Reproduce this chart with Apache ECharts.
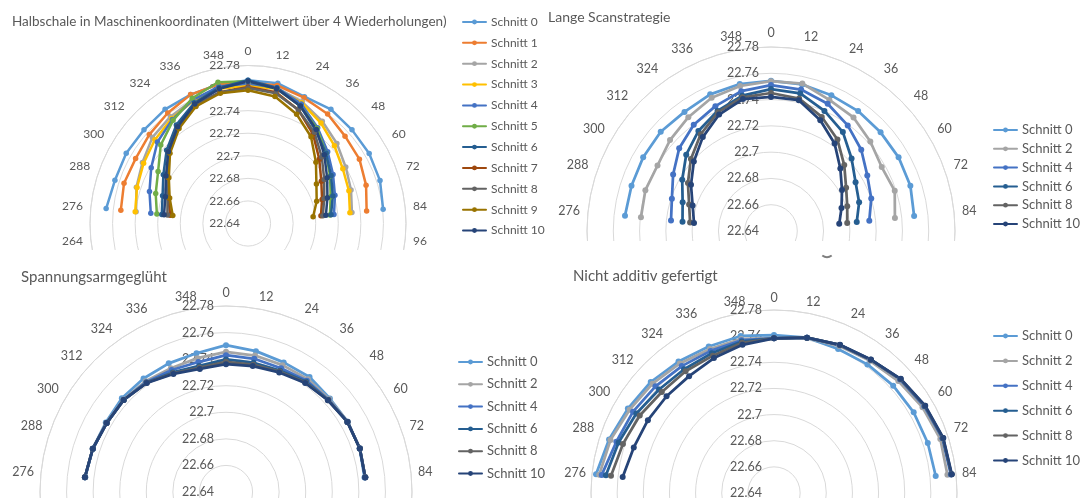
<!DOCTYPE html>
<html><head><meta charset="utf-8">
<script src="https://cdn.jsdelivr.net/npm/echarts@6/dist/echarts.min.js"></script>
<style>
html,body{margin:0;padding:0;background:#fff;width:1084px;height:498px;overflow:hidden;}
.panel{position:absolute;overflow:hidden;}
.chart{position:absolute;left:0;top:0;}
</style></head><body>
<div class="panel" style="left:0;top:0;width:545px;height:250px"><div class="chart" id="c1" style="width:545px;height:420px"></div></div>
<div class="panel" style="left:545px;top:0;width:539px;height:241px"><div class="chart" id="c2" style="width:539px;height:450px"></div></div>
<div class="panel" style="left:0;top:252px;width:560px;height:246px"><div class="chart" id="c3" style="width:560px;height:460px"></div></div>
<div class="panel" style="left:560px;top:252px;width:524px;height:246px"><div class="chart" id="c4" style="width:524px;height:460px"></div></div>
<script>
// ---- shared axes ----
const angles = [276, 288, 300, 312, 324, 336, 348, 0, 12, 24, 36, 48, 60, 72, 84];
const angleTickLabels = [0, 12, 24, 36, 48, 60, 72, 84, 96, 108, 120, 132, 144, 156, 168, 180, 192, 204, 216, 228, 240, 252, 264, 276, 288, 300, 312, 324, 336, 348];
const radiusTicks = [22.64, 22.66, 22.68, 22.70, 22.72, 22.74, 22.76, 22.78];

// ---- Chart 1: Halbschale in Maschinenkoordinaten ----
const hsNames = ['Schnitt 0','Schnitt 1','Schnitt 2','Schnitt 3','Schnitt 4','Schnitt 5','Schnitt 6','Schnitt 7','Schnitt 8','Schnitt 9','Schnitt 10'];
const hs0  = [22.7664, 22.7640, 22.7646, 22.7640, 22.7650, 22.7650, 22.7660, 22.7670, 22.7670, 22.7630, 22.7650, 22.7640, 22.7640, 22.7630, 22.7604];
const hs1  = [22.7533, 22.7555, 22.7550, 22.7577, 22.7610, 22.7650, 22.7660, 22.7650, 22.7650, 22.7620, 22.7600, 22.7557, 22.7540, 22.7500, 22.7457];
const hs2  = [22.7397, 22.7440, 22.7480, 22.7540, 22.7570, 22.7600, 22.7630, 22.7640, 22.7630, 22.7580, 22.7520, 22.7460, 22.7400, 22.7360, 22.7326];
const hs3  = [22.7405, 22.7434, 22.7468, 22.7510, 22.7550, 22.7590, 22.7620, 22.7620, 22.7620, 22.7570, 22.7500, 22.7430, 22.7370, 22.7340, 22.7308];
const hs4  = [22.7266, 22.7318, 22.7390, 22.7480, 22.7540, 22.7600, 22.7640, 22.7640, 22.7630, 22.7560, 22.7450, 22.7350, 22.7270, 22.7210, 22.7166];
const hs5  = [22.7212, 22.7260, 22.7320, 22.7440, 22.7530, 22.7615, 22.7680, 22.7660, 22.7620, 22.7540, 22.7440, 22.7330, 22.7240, 22.7170, 22.7130];
const hs6  = [22.7168, 22.7196, 22.7266, 22.7370, 22.7480, 22.7570, 22.7630, 22.7670, 22.7630, 22.7540, 22.7420, 22.7330, 22.7250, 22.7190, 22.7140];
const hs7  = [22.7094, 22.7140, 22.7220, 22.7340, 22.7450, 22.7540, 22.7590, 22.7610, 22.7590, 22.7500, 22.7380, 22.7250, 22.7150, 22.7090, 22.7050];
const hs8  = [22.7118, 22.7150, 22.7230, 22.7350, 22.7460, 22.7550, 22.7590, 22.7600, 22.7580, 22.7500, 22.7400, 22.7280, 22.7180, 22.7110, 22.7067];
const hs9  = [22.7070, 22.7130, 22.7210, 22.7330, 22.7440, 22.7535, 22.7580, 22.7580, 22.7550, 22.7460, 22.7350, 22.7210, 22.7100, 22.7040, 22.6980];
const hs10 = [22.7148, 22.7170, 22.7240, 22.7350, 22.7460, 22.7560, 22.7620, 22.7660, 22.7620, 22.7540, 22.7430, 22.7310, 22.7210, 22.7140, 22.7094];

// ---- Chart 2: Lange Scanstrategie ----
const sixNames = ['Schnitt 0','Schnitt 2','Schnitt 4','Schnitt 6','Schnitt 8','Schnitt 10'];
const ls0  = [22.7517, 22.7516, 22.7523, 22.7529, 22.7520, 22.7538, 22.7543, 22.7543, 22.7540, 22.7530, 22.7528, 22.7522, 22.7521, 22.7515, 22.7495];
const ls2  = [22.7395, 22.7405, 22.7397, 22.7434, 22.7470, 22.7510, 22.7528, 22.7540, 22.7547, 22.7492, 22.7468, 22.7417, 22.7373, 22.7390, 22.7348];
const ls4  = [22.7165, 22.7193, 22.7260, 22.7340, 22.7400, 22.7440, 22.7488, 22.7510, 22.7500, 22.7460, 22.7393, 22.7324, 22.7246, 22.7202, 22.7152];
const ls6  = [22.7077, 22.7107, 22.7180, 22.7268, 22.7340, 22.7400, 22.7453, 22.7480, 22.7470, 22.7400, 22.7330, 22.7225, 22.7143, 22.7105, 22.7056];
const ls8  = [22.7019, 22.7055, 22.7130, 22.7220, 22.7310, 22.7390, 22.7440, 22.7450, 22.7430, 22.7350, 22.7260, 22.7150, 22.7060, 22.7010, 22.6983];
const ls10 = [22.6989, 22.7027, 22.7103, 22.7190, 22.7283, 22.7370, 22.7426, 22.7420, 22.7418, 22.7322, 22.7223, 22.7110, 22.7024, 22.6964, 22.6922];

// ---- Chart 3: Spannungsarmgeglüht ----
const sp0  = [22.7465, 22.7455, 22.7445, 22.7455, 22.7456, 22.7460, 22.7468, 22.7505, 22.7484, 22.7468, 22.7470, 22.7452, 22.7458, 22.7458, 22.7448];
const sp2  = [22.7466, 22.7454, 22.7440, 22.7440, 22.7430, 22.7420, 22.7430, 22.7455, 22.7450, 22.7445, 22.7450, 22.7445, 22.7458, 22.7460, 22.7455];
const sp4  = [22.7467, 22.7454, 22.7438, 22.7437, 22.7422, 22.7405, 22.7400, 22.7430, 22.7425, 22.7420, 22.7435, 22.7438, 22.7456, 22.7459, 22.7454];
const sp6  = [22.7468, 22.7454, 22.7437, 22.7436, 22.7418, 22.7385, 22.7370, 22.7398, 22.7395, 22.7400, 22.7425, 22.7435, 22.7455, 22.7459, 22.7454];
const sp8  = [22.7468, 22.7455, 22.7437, 22.7436, 22.7416, 22.7378, 22.7358, 22.7380, 22.7380, 22.7392, 22.7418, 22.7433, 22.7455, 22.7459, 22.7454];
const sp10 = [22.7468, 22.7454, 22.7437, 22.7436, 22.7414, 22.7373, 22.7347, 22.7362, 22.7369, 22.7385, 22.7414, 22.7432, 22.7455, 22.7459, 22.7453];

// ---- Chart 4: Nicht additiv gefertigt ----
const na0  = [22.7769, 22.7727, 22.7691, 22.7669, 22.7643, 22.7627, 22.7628, 22.7608, 22.7615, 22.7606, 22.7616, 22.7627, 22.7634, 22.7637, 22.7644];
const na2  = [22.7744, 22.7715, 22.7675, 22.7650, 22.7625, 22.7605, 22.7605, 22.7585, 22.7612, 22.7630, 22.7650, 22.7680, 22.7712, 22.7738, 22.7734];
const na4  = [22.7725, 22.7668, 22.7645, 22.7620, 22.7600, 22.7590, 22.7595, 22.7583, 22.7614, 22.7638, 22.7658, 22.7698, 22.7728, 22.7755, 22.7760];
const na6  = [22.7693, 22.7650, 22.7616, 22.7583, 22.7570, 22.7570, 22.7585, 22.7583, 22.7615, 22.7640, 22.7660, 22.7702, 22.7732, 22.7758, 22.7765];
const na8  = [22.7654, 22.7615, 22.7586, 22.7555, 22.7551, 22.7550, 22.7575, 22.7583, 22.7615, 22.7640, 22.7660, 22.7703, 22.7734, 22.7760, 22.7766];
const na10 = [22.7564, 22.7528, 22.7514, 22.7506, 22.7505, 22.7530, 22.7559, 22.7583, 22.7615, 22.7641, 22.7662, 22.7705, 22.7736, 22.7762, 22.7768];

const colors11 = ['#5B9BD5','#ED7D31','#A5A5A5','#FFC000','#4472C4','#70AD47','#255E91','#9E480E','#636363','#997300','#264478'];
const colors6  = ['#5B9BD5','#A5A5A5','#4472C4','#255E91','#636363','#264478'];

const FONT = 'Lato, "Liberation Sans", sans-serif';
const TXT = '#595959';
const GRID = '#D9D9D9';

function build(el, cfg) {
  const chart = echarts.init(document.getElementById(el), null, {renderer: 'canvas'});
  const series = cfg.data.map((vals, i) => ({
    type: 'line', coordinateSystem: 'polar', name: cfg.names[i],
    data: angles.map((a, k) => [vals[k], a]),
    symbol: 'circle', symbolSize: cfg.sym,
    lineStyle: {width: cfg.lw, color: cfg.colors[i], cap: 'round', join: 'round'},
    itemStyle: {color: cfg.colors[i]},
    emphasis: {disabled: true}, animation: false, clip: false
  }));
  chart.setOption({
    animation: false,
    textStyle: {fontFamily: FONT},
    title: {text: cfg.title, left: cfg.titlePos[0], top: cfg.titlePos[1], padding: 0,
      textStyle: {fontSize: cfg.titleSize, fontWeight: 'normal', color: TXT, fontFamily: FONT}},
    legend: {orient: 'vertical', left: cfg.legPos[0], top: cfg.legPos[1], padding: 0,
      itemWidth: 23, itemHeight: 6, itemGap: cfg.legGap, selectedMode: false,
      textStyle: {fontSize: cfg.legSize, color: TXT, fontFamily: FONT},
      data: cfg.names},
    polar: {center: cfg.center, radius: cfg.R},
    angleAxis: {type: 'value', min: 0, max: 360, interval: 12, startAngle: 90, clockwise: true,
      axisLine: {show: true, lineStyle: {color: GRID, width: 1}},
      axisTick: {show: false}, splitLine: {show: false},
      axisLabel: {color: TXT, fontSize: cfg.angSize, margin: cfg.angMargin, fontFamily: FONT,
        formatter: v => angleTickLabels.indexOf(v) >= 0 ? String(v) : ''}},
    radiusAxis: {type: 'value', min: radiusTicks[0], max: radiusTicks[radiusTicks.length - 1], interval: 0.02,
      axisLine: {show: false}, axisTick: {show: false},
      splitLine: {show: true, lineStyle: {color: GRID, width: 1}},
      axisLabel: {color: TXT, fontSize: cfg.radSize, margin: cfg.radMargin, fontFamily: FONT,
        formatter: v => String(+(+v).toFixed(2))}},
    graphic: cfg.graphic || [],
    series: series
  });
}

build('c1', {
  title: 'Halbschale in Maschinenkoordinaten (Mittelwert über 4 Wiederholungen)', titlePos: [12, 14.5], titleSize: 13.5,
  names: hsNames, data: [hs0, hs1, hs2, hs3, hs4, hs5, hs6, hs7, hs8, hs9, hs10], colors: colors11,
  legPos: [462, 16], legGap: 8.85, legSize: 12,
  center: [248, 223.5], R: 158, lw: 2.5, sym: 5.5,
  angSize: 12, angMargin: 8, radSize: 12, radMargin: 8
});
build('c2', {
  title: 'Lange Scanstrategie', titlePos: [3, 10], titleSize: 14,
  names: sixNames, data: [ls0, ls2, ls4, ls6, ls8, ls10], colors: colors6,
  legPos: [448, 123.5], legGap: 5.8, legSize: 13,
  center: [226, 231], R: 184, lw: 2.75, sym: 6,
  angSize: 12.5, angMargin: 8, radSize: 12.5, radMargin: 12
});
build('c3', {
  title: 'Spannungsarmgeglüht', titlePos: [21, 18], titleSize: 15,
  names: sixNames, data: [sp0, sp2, sp4, sp6, sp8, sp10], colors: colors6,
  legPos: [458, 103.5], legGap: 9.3, legSize: 13,
  center: [226, 240], R: 186, lw: 2.75, sym: 6,
  angSize: 12.5, angMargin: 7, radSize: 12.5, radMargin: 12
});
build('c4', {
  title: 'Nicht additiv gefertigt', titlePos: [13, 17], titleSize: 15,
  names: sixNames, data: [na0, na2, na4, na6, na8, na10], colors: colors6,
  legPos: [433, 77.5], legGap: 11.9, legSize: 13,
  center: [214, 241], R: 183, lw: 2.75, sym: 6,
  angSize: 12.5, angMargin: 6, radSize: 12.5, radMargin: 12,
  graphic: [{type: 'arc', shape: {cx: 267, cy: -3, r: 8, startAngle: Math.PI * 0.3, endAngle: Math.PI * 0.7},
    style: {stroke: '#7F7F7F', lineWidth: 2, fill: null}}]
});
</script>
</body></html>
